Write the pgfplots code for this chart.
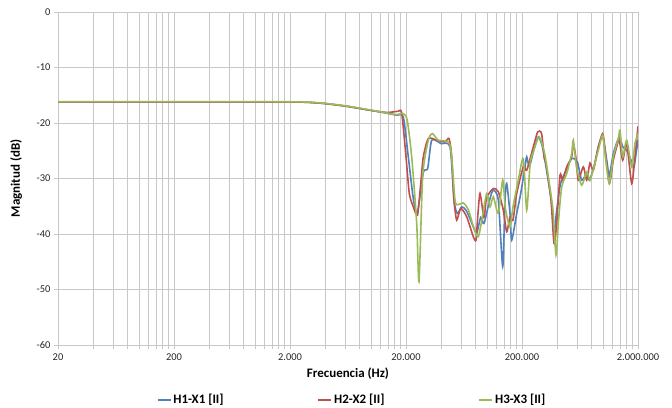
\documentclass[border=0pt]{standalone}
\usepackage{fontspec}
\setmainfont{Carlito}
\usepackage{pgfplots}
\usepackage{pgfplotstable}
\pgfplotsset{compat=1.18}
\definecolor{c1}{RGB}{79,129,189}
\definecolor{c2}{RGB}{192,80,77}
\definecolor{c3}{RGB}{155,187,89}
\definecolor{gridc}{RGB}{200,200,200}
\pgfplotstableread{
f db
20 -16.2
200 -16.2
1000 -16.2
2000 -16.22
2800 -16.27
4000 -16.5
6200 -17.0
9790 -17.7
13720 -18.25
16630 -18.6
18950 -18.9
20930 -26.1
23110 -33.6
25000 -36.3
28200 -28.9
30770 -28.2
33320 -23.1
40000 -23.7
47910 -24.3
51860 -33.9
55390 -36.3
60430 -35.1
66730 -35.9
77130 -39.0
81370 -39.9
88100 -37.0
94050 -38.1
105950 -33.6
113150 -32.1
124950 -33.9
136340 -45.9
142700 -33.9
147600 -30.9
157600 -36.3
163000 -41.1
180100 -36.3
194900 -32.7
212300 -27.9
219600 -26.1
231200 -27.9
250300 -25.2
276400 -22.5
300000 -24.3
322000 -27.9
360700 -34.5
377500 -39.9
398300 -35.7
430000 -30.9
480000 -28.5
536400 -26.4
599400 -27.0
654200 -30.3
722400 -29.1
760000 -30.3
835100 -27.9
909600 -24.3
992500 -22.5
1075000 -26.7
1131500 -29.5
1225000 -25.5
1380000 -22.5
1476000 -24.3
1598000 -24.9
1765000 -27.0
1847000 -27.9
2000000 -23.1
}\tblue
\pgfplotstableread{
f db
20 -16.2
200 -16.2
1000 -16.2
2000 -16.22
2800 -16.27
4000 -16.5
6200 -17.0
9790 -17.7
13720 -18.1
17070 -17.9
18360 -18.2
20000 -26.1
21350 -32.7
23110 -35.1
25130 -36.6
26770 -31.0
28200 -26.1
31140 -22.8
36790 -23.1
43370 -23.4
46960 -22.8
49550 -26.0
51860 -33.9
54730 -37.5
59250 -35.4
66730 -36.9
76070 -40.5
80240 -41.1
83000 -37.0
86880 -32.7
94050 -37.0
99000 -33.5
113150 -31.8
124950 -32.4
137990 -35.7
147600 -39.6
157600 -36.9
167300 -37.5
180100 -32.7
205200 -27.9
219600 -28.5
250300 -24.3
273200 -21.6
295000 -21.9
311300 -26.4
322000 -27.3
355700 -33.9
377500 -41.7
398300 -38.1
425200 -29.4
448600 -30.3
485700 -27.9
536400 -26.1
553700 -23.7
584100 -26.4
611400 -30.3
675300 -27.9
722400 -30.3
771300 -27.2
823500 -28.5
909600 -24.3
992500 -21.9
1039000 -24.8
1131500 -30.9
1225000 -26.7
1310000 -24.3
1380000 -23.1
1476000 -26.7
1598000 -23.7
1765000 -30.9
1884000 -26.0
2000000 -20.6
}\tred
\pgfplotstableread{
f db
20 -16.15
200 -16.15
1000 -16.15
2000 -16.18
2800 -16.23
4000 -16.45
6200 -16.95
9790 -17.65
13720 -18.2
16630 -18.5
18950 -18.3
20500 -19.5
22390 -26.1
24730 -38.1
25890 -48.6
27860 -29.5
31140 -23.1
33720 -21.9
37970 -23.1
47910 -24.0
52910 -33.9
56490 -34.7
62380 -34.4
68890 -35.6
77130 -39.0
84000 -40.5
90950 -37.0
99250 -32.7
105950 -35.1
113150 -33.3
124950 -36.3
136340 -30.3
144000 -35.5
157600 -38.7
167300 -35.1
185900 -30.3
205200 -26.4
219600 -35.7
235000 -27.3
250300 -25.2
281000 -22.5
311300 -25.2
337100 -29.7
370000 -35.7
392800 -43.8
413000 -37.5
440000 -31.5
485700 -29.1
536400 -25.5
553700 -23.1
590000 -27.9
654200 -31.2
722400 -28.8
771300 -30.3
835100 -27.9
909600 -24.9
992500 -22.2
1050000 -26.4
1131500 -30.9
1225000 -26.1
1353000 -22.8
1399000 -21.3
1476000 -26.1
1598000 -23.1
1765000 -27.9
1884000 -23.7
2000000 -21.9
}\tgreen
\begin{document}
\begin{tikzpicture}
\begin{axis}[name=ax, scale only axis, width=580bp, height=333bp,
  xmode=log, xmin=20, xmax=2000000, ymin=-60, ymax=0,
  xtick={20,200,2000,20000,200000,2000000},
  xticklabels={20,200,2.000,20.000,200.000,2.000.000},
  minor xtick={40,60,80,100,120,140,160,180,400,600,800,1000,1200,1400,1600,1800,4000,6000,8000,10000,12000,14000,16000,18000,40000,60000,80000,100000,120000,140000,160000,180000,400000,600000,800000,1000000,1200000,1400000,1600000,1800000},
  ytick={-60,-50,-40,-30,-20,-10,0},
  yticklabels={-60,-50,-40,-30,-20,-10,0},
  grid=both,
  major grid style={gridc, line width=0.8bp},
  minor grid style={gridc, line width=0.8bp},
  axis line style={gridc, line width=0.8bp},
  tick style={gridc, line width=0.8bp},
  tick align=outside, tick pos=left,
  major tick length=4bp, minor tick length=4bp,
  ticklabel style={font=\fontsize{10.5}{12}\selectfont, text=black!85},
  xticklabel style={yshift=-1bp},
  xlabel={Frecuencia (Hz)}, ylabel={Magnitud (dB)},
  label style={font=\fontsize{13}{15}\selectfont\bfseries},
  xlabel style={at={(axis description cs:0.5,-0.087)}, anchor=center},
  ylabel style={at={(axis description cs:-0.072,0.5)}, anchor=center},
  legend columns=3,
  legend style={at={(axis description cs:0.507,-0.165)}, anchor=center, draw=none, fill=none,
    font=\fontsize{13}{15}\selectfont\bfseries,
    /tikz/every even column/.append style={column sep=92bp}},
  legend image code/.code={\draw[#1] (0bp,0bp) -- (13bp,0bp);},
  every axis plot/.append style={line width=1.6bp, smooth, tension=0.4},
]
\addplot[c1] table[x=f,y=db] {\tblue};
\addplot[c2] table[x=f,y=db] {\tred};
\addplot[c3] table[x=f,y=db] {\tgreen};
\legend{H1-X1 [II], H2-X2 [II], H3-X3 [II]}
\end{axis}
\pgfresetboundingbox
\path ([xshift=-58bp,yshift=-63bp]ax.south west) rectangle ([xshift=34bp,yshift=12bp]ax.north east);
\end{tikzpicture}
\end{document}
